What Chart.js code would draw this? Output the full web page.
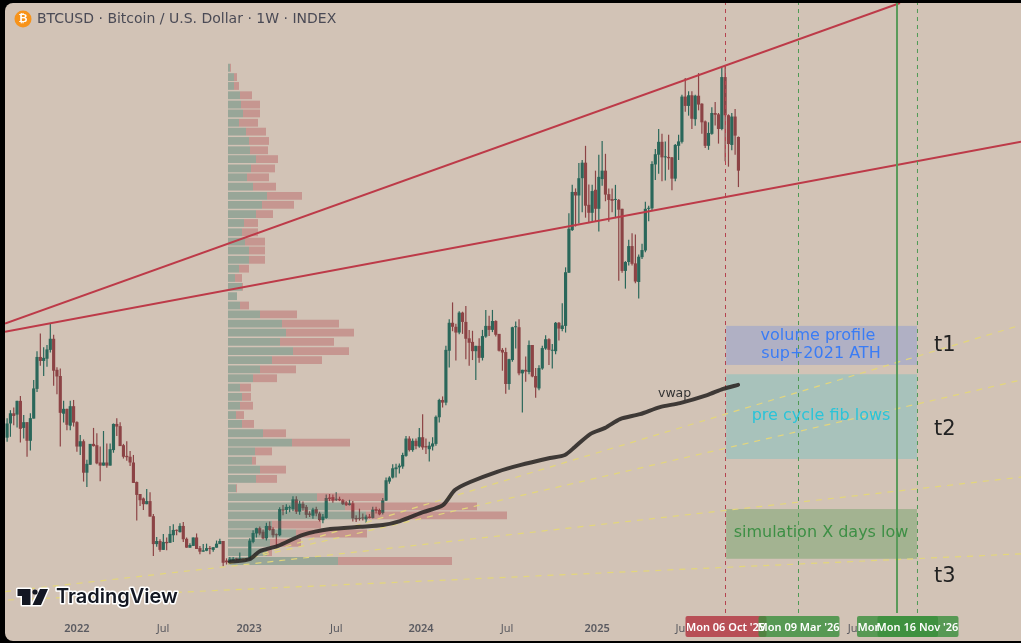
<!DOCTYPE html>
<html>
<head>
<meta charset="utf-8">
<title>BTCUSD 1W</title>
<script src="https://cdn.jsdelivr.net/npm/chart.js@4"></script>
<style>
    html, body { margin: 0; padding: 0; background: #000; width: 1021px; height: 643px; overflow: hidden; }
    #panel { position: absolute; left: 5px; top: 3px; width: 1016px; height: 638px; background: #d2c3b6; border-radius: 8px 0 0 8px; }
    #chart { position: absolute; left: 0; top: 0; }
</style>
</head>
<body>
<div id="panel"></div>
<canvas id="chart" width="1021" height="643"></canvas>
<script>
// weekly candles in thousands of USD, oldest first
const opens = [
    44.2,47.4,49.7,49.4,52.5,46.4,47.7,43.5,48.5,55.2,62.4,61.5,62.0,64.0,66.5,59.5,58.1,49.6,50.7,46.9,
    51.3,47.7,42.2,43.4,36.3,38.1,42.8,42.5,38.6,37.9,38.6,37.9,41.4,47.3,46.8,42.5,40.1,39.9,38.6,34.2,
    31.5,30.5,29.2,29.9,26.5,20.2,20.9,18.9,20.7,20.5,22.2,23.4,22.9,24.3,21.4,19.4,19.8,21.7,19.3,18.5,
    18.7,19.3,18.9,19.4,20.2,20.9,16.5,16.2,16.5,16.9,16.8,16.9,16.7,16.7,20.7,22.6,23.8,23.0,21.5,24.3,
    23.6,22.4,22.2,28.0,27.9,28.3,28.1,30.3,27.5,29.3,28.6,27.1,26.6,28.1,27.1,25.6,26.1,30.7,30.8,30.2,
    30.4,30.1,29.6,29.0,29.4,26.1,26.0,26.2,25.8,26.4,26.1,28.1,27.9,27.2,30.0,34.3,35.2,37.1,37.5,37.7,
    40.1,44.0,41.4,43.5,42.2,44.3,42.3,41.6,42.2,42.8,48.8,52.7,52.1,63.8,70.1,69.2,67.9,72.4,70.3,66.6,
    65.8,63.7,64.9,62.2,67.0,69.4,68.5,70.5,67.6,64.0,63.5,56.3,61.7,69.1,69.1,58.7,59.5,59.0,65.1,58.1,
    55.3,59.8,64.3,66.4,63.8,63.7,70.1,68.7,69.4,81.4,91.0,99.6,98.8,102.7,106.2,96.7,94.9,100.1,95.8,102.5,
    104.4,99.1,98.0,97.8,97.8,95.8,81.8,83.8,87.4,83.5,79.3,84.9,86.4,95.8,95.9,105.8,108.0,110.9,107.4,107.5,
    107.4,102.6,110.0,110.9,121.1,119.0,121.4,116.0,121.3,119.5,115.5,110.0,112.7,117.4,117.1,113.8,125.5,116.9,110.2,116.6,
    112.0
];
const closes = [
    47.4,49.7,49.1,52.5,46.2,47.7,43.5,48.6,55.3,62.4,61.5,62.2,64.1,66.5,59.3,58.0,49.8,50.7,47.1,51.3,
    47.6,42.2,43.4,36.3,38.3,42.8,42.3,38.4,37.9,38.6,37.9,41.6,47.3,46.7,42.3,39.9,39.8,38.6,34.0,31.3,
    30.1,29.2,29.9,26.4,20.2,20.9,18.9,20.7,20.4,22.5,23.4,23.2,24.3,21.3,19.4,20.0,21.7,19.1,18.5,18.8,
    19.3,19.1,19.5,20.3,20.9,16.0,16.1,16.9,16.9,16.8,16.9,16.6,16.6,21.0,22.7,23.8,22.6,21.5,24.3,23.4,
    22.2,22.2,28.1,27.8,28.6,28.5,30.3,27.5,29.3,28.3,26.8,26.8,28.0,27.1,25.6,26.4,30.6,30.4,30.0,30.4,
    30.1,29.2,29.0,29.4,26.0,25.8,25.9,26.0,26.4,26.1,28.0,27.7,26.9,30.1,34.6,35.2,37.3,37.5,37.9,40.3,
    44.0,41.4,43.5,42.3,44.3,42.0,42.0,42.4,42.9,48.9,52.7,52.1,64.0,70.1,69.2,67.9,72.4,70.3,66.5,65.6,
    63.7,64.9,62.2,67.1,69.4,68.5,70.5,67.4,63.8,63.4,56.3,61.9,69.1,69.2,58.7,59.5,59.1,65.1,58.0,55.5,
    59.9,64.4,66.4,64.0,63.9,70.1,68.8,69.5,81.5,91.3,99.6,98.8,102.7,106.2,96.5,94.9,99.8,95.8,103.0,104.4,
    99.0,97.8,97.6,97.9,95.6,81.8,83.8,87.4,83.4,79.4,85.0,86.5,95.8,95.9,105.9,108.1,110.9,107.4,107.5,107.2,
    102.6,110.2,111.0,121.1,119.0,121.4,116.1,121.3,119.3,115.3,110.0,112.9,117.4,117.0,113.8,125.5,116.9,110.4,116.6,112.3,
    104.4
];
const highs = [
    48.6,50.4,51.0,52.5,53.6,49.3,47.7,49.7,57.2,63.7,67.7,64.6,65.1,70.0,67.4,60.1,59.8,52.5,50.7,52.5,
    52.7,47.9,44.8,43.8,39.2,42.8,46.4,45.2,42.2,45.7,42.9,42.9,47.4,48.6,47.7,42.8,43.4,41.2,40.3,34.3,
    31.5,30.7,32.6,31.9,27.0,21.8,21.3,22.5,21.7,24.3,24.7,23.5,24.9,25.2,21.7,20.4,21.7,22.6,19.8,20.2,
    20.3,19.8,19.5,21.0,21.4,20.9,17.0,17.3,17.3,17.1,18.3,17.0,16.9,21.5,23.3,23.9,24.2,23.5,25.0,25.3,
    24.0,22.6,28.5,29.0,29.2,28.9,31.0,31.0,30.0,29.8,29.0,27.6,28.4,28.6,27.5,27.0,31.4,31.5,31.4,31.9,
    30.9,30.4,29.9,30.2,29.9,26.7,28.2,27.1,26.8,27.0,28.6,28.6,28.2,30.6,35.2,35.5,38.2,38.3,38.4,40.8,
    44.6,44.5,44.0,44.0,46.4,49.5,44.0,43.3,44.3,49.2,53.0,53.5,64.9,70.9,74.7,69.9,72.7,72.6,73.9,68.5,
    68.3,64.9,66.6,68.5,73.0,71.7,73.0,70.7,67.6,64.4,64.5,62.0,69.2,70.4,70.9,59.5,62.5,66.1,65.1,59.9,
    60.5,64.9,67.3,66.6,65.3,70.3,70.3,74.5,82.6,94.8,101.2,100.4,106.1,106.8,110.0,101.3,101.2,104.4,108.0,111.1,
    108.2,100.4,100.4,101.2,98.0,95.8,84.0,88.8,90.3,90.0,85.5,87.9,97.4,96.5,106.5,109.3,113.8,112.7,111.0,112.5,
    107.5,110.4,112.5,121.5,125.3,122.3,122.3,121.5,126.4,119.6,115.7,115.3,118.7,119.9,117.4,127.7,128.0,117.1,117.4,118.3,
    112.1
];
const lows = [
    43.3,44.4,47.0,46.5,43.1,44.0,39.9,41.3,48.5,54.5,60.4,58.1,60.2,63.4,55.9,54.0,42.2,47.6,45.9,45.9,
    46.7,41.0,40.3,34.3,33.1,38.1,42.2,38.2,34.4,37.9,37.4,37.9,40.8,44.6,42.3,39.5,39.0,37.8,34.0,25.5,
    28.8,27.9,29.2,26.4,17.5,19.6,18.5,18.9,18.8,20.5,20.7,22.2,22.8,20.7,19.4,19.4,19.8,19.1,17.9,18.5,
    18.6,17.9,18.5,19.4,20.2,15.2,15.6,15.9,16.3,16.5,16.5,16.4,16.4,16.6,20.4,21.7,22.2,21.3,21.0,23.2,
    21.7,19.4,22.0,26.7,27.0,27.4,27.6,27.0,26.8,27.7,26.1,26.3,25.9,26.5,25.3,24.9,25.9,29.9,29.5,29.9,
    29.9,29.0,28.8,28.9,25.3,25.2,25.5,25.5,25.0,26.0,26.0,27.1,26.7,26.9,29.9,33.8,35.0,35.2,36.1,37.2,
    39.9,41.1,41.0,41.6,41.9,41.5,40.5,38.8,41.3,42.4,47.6,51.0,51.5,60.0,68.2,61.6,67.5,67.6,61.9,60.4,
    61.7,57.2,61.1,61.6,66.7,67.1,68.0,67.0,63.6,59.3,54.1,55.0,61.3,64.3,58.3,49.9,56.8,58.5,57.8,53.2,
    54.9,59.5,64.0,60.6,59.8,63.0,66.1,68.2,67.9,81.3,90.8,91.8,92.5,95.0,93.8,92.6,92.9,92.9,90.7,101.0,
    97.5,92.9,95.0,93.7,79.6,81.4,77.8,83.0,83.0,79.0,75.6,84.5,86.0,93.0,95.5,102.3,103.7,102.0,102.2,104.6,
    100.0,102.0,106.8,110.5,117.7,116.8,113.8,114.5,118.0,112.7,109.5,109.1,112.5,114.6,110.5,113.5,106.5,105.3,109.0,108.0,
    100.7
];

// volume profile rows, top row first
const profileLevels = [
    127.6,125.5,123.5,121.4,119.3,117.3,115.2,113.2,111.1,109.0,107.0,104.9,102.9,100.8,98.7,96.7,94.6,92.6,90.5,88.4,
    86.4,84.3,82.3,80.2,78.2,76.1,74.0,72.0,69.9,67.9,65.8,63.7,61.7,59.6,57.6,55.5,53.4,51.4,49.3,47.3,
    45.2,43.1,41.1,39.0,37.0,34.9,32.8,30.8,28.7,26.7,24.6,22.6,20.5,18.4,16.4
];
const profileUp = [
    2,6,6,12,13,15,11,18,21,22,28,23,19,25,39,34,28,16,14,17,
    21,21,11,7,14,9,12,32,54,58,52,65,44,32,25,12,14,12,8,14,
    35,64,27,24,32,28,8,89,117,138,44,68,42,39,110
];
const profileDown = [
    1,3,5,12,19,17,19,20,20,18,22,24,22,23,35,32,17,14,16,20,
    16,16,10,7,1,0,9,37,57,68,54,56,50,36,24,11,9,13,8,12,
    23,58,17,4,26,21,1,67,132,141,49,71,31,5,114
];

// vwap, read at these weeks
const vwapWeeks = [67,73,76,81.5,89,97.2,106.2,113,118.2,125.1,131.1,134.7,139.3,147.4,154.3,163.3,167.8,170.8,175.4,179.9,184.4,190.4,196.4,202.4,210.6,215.4,219.9];
const vwapValues = [16.2,16.8,18.6,19.8,22.3,23.6,24.1,24.5,25.4,27.4,29.0,32.4,34.2,36.5,38.0,39.6,40.3,42.1,45.0,46.4,48.4,49.5,51.1,52.0,53.8,55.2,56.1];

// trend lines as [week, price] ends
const redLines = [
    [[-0.63, 69.95], [268.6, 142.2]],
    [[-0.63, 68.1], [305, 110.9]]
];
const yellowLines = [
    [[66.5, 15.7], [305, 69.6]],
    [[66.5, 15.9], [305, 57.2]],
    [[-0.63, 9.5], [305, 35.3]],
    [[0.27, 7.6], [305, 18.0]]
];

// x axis
const tickWeeks = [21, 46.9, 72.8, 99, 124.5, 150.4, 177.5, 203, 254.8];
const tickLabels = ['2022', 'Jul', '2023', 'Jul', '2024', 'Jul', '2025', 'Jul', 'Jul'];

// time markers
const markerWeeks = [216.11, 238.07, 267.7, 273.86];
const markerDates = ["Mon 06 Oct '25", "Mon 09 Mar '26", "Mon 05 Oct '26", "Mon 16 Nov '26"];
const markerColors = ['#b5434f', '#4f9a55', '#5a9a5a', '#4f9a55'];
const markerTagColors = ['rgba(178,50,62,0.8)', 'rgba(56,142,60,0.8)', 'rgba(56,142,60,0.8)', 'rgba(56,142,60,0.8)'];

// price zones
const zoneTop = [69.4, 58.5, 28.1];
const zoneBottom = [60.6, 39.4, 16.9];
const zoneFrom = 216.3;
const zoneTo = 273.7;
const zoneColors = ['rgba(41,98,255,0.2)', 'rgba(0,188,212,0.2)', 'rgba(56,142,60,0.3)'];

const yMin = 4.67, yMax = 142.2;
const FONT = '"DejaVu Sans", sans-serif';
const SMALL_FONT = '"Noto Sans", sans-serif';

const candleX = opens.map((_, i) => i);
const GREEN = '#2a675a';
const RED = '#8c4345';
const candleColors = opens.map((o, i) => closes[i] >= o ? GREEN : RED);

function straight(pair, color, width, dash, order) {
    return {
        type: 'line',
        data: pair.map(p => ({ x: p[0], y: p[1] })),
        borderColor: color,
        borderWidth: width,
        borderDash: dash,
        pointRadius: 0,
        order: order
    };
}

const datasets = [];

// candles: wick underneath, body on top
datasets.push({
    type: 'bar',
    data: candleX.map(i => ({ x: i, y: [lows[i], highs[i]] })),
    backgroundColor: candleColors,
    barPercentage: 0.36,
    categoryPercentage: 1,
    grouped: false,
    order: 21
});
datasets.push({
    type: 'bar',
    data: candleX.map(i => ({ x: i, y: [opens[i], closes[i]] })),
    backgroundColor: candleColors,
    barPercentage: 0.95,
    categoryPercentage: 1,
    grouped: false,
    minBarLength: 1,
    order: 20
});

// volume profile, stacked by hand
datasets.push({
    type: 'bar',
    indexAxis: 'y',
    xAxisID: 'xVol',
    yAxisID: 'yVol',
    data: profileLevels.map((lvl, i) => ({ x: [0, profileUp[i]], y: lvl })),
    backgroundColor: 'rgba(47,111,96,0.35)',
    barPercentage: 0.88,
    categoryPercentage: 1,
    grouped: false,
    order: 10
});
datasets.push({
    type: 'bar',
    indexAxis: 'y',
    xAxisID: 'xVol',
    yAxisID: 'yVol',
    data: profileLevels.map((lvl, i) => ({ x: [profileUp[i], profileUp[i] + profileDown[i]], y: lvl })),
    backgroundColor: 'rgba(178,66,74,0.35)',
    barPercentage: 0.88,
    categoryPercentage: 1,
    grouped: false,
    order: 10
});

yellowLines.forEach(l => datasets.push(straight(l, '#e3d67c', 1.2, [6, 6], 9)));
redLines.forEach(l => datasets.push(straight(l, '#bd3a48', 2, [], 8)));

markerWeeks.forEach((w, i) => {
    const solid = i === 2;
    datasets.push(straight([[w, yMin], [w, yMax]], markerColors[i], solid ? 2 : 1, solid ? [] : [4, 4], 7));
});

datasets.push({
    type: 'line',
    data: vwapWeeks.map((w, i) => ({ x: w, y: vwapValues[i] })),
    borderColor: 'rgba(45,42,40,0.9)',
    borderWidth: 4,
    borderCapStyle: 'round',
    tension: 0.25,
    pointRadius: 0,
    order: 5
});

// zones go under everything
const zonesPlugin = {
    id: 'zones',
    beforeDatasetsDraw(chart) {
        const { ctx, scales: { x, y } } = chart;
        ctx.save();
        zoneTop.forEach((top, i) => {
            ctx.fillStyle = zoneColors[i];
            const py = y.getPixelForValue(top);
            ctx.fillRect(x.getPixelForValue(zoneFrom), py, x.getPixelForValue(zoneTo) - x.getPixelForValue(zoneFrom), y.getPixelForValue(zoneBottom[i]) - py);
        });
        ctx.restore();
    }
};

function drawLogo(ctx) {
    ctx.save();
    ctx.lineJoin = 'round';
    const shapes = new Path2D();
    // T
    shapes.moveTo(17.5, 589); shapes.lineTo(30.5, 589); shapes.lineTo(30.5, 605); shapes.lineTo(22, 605); shapes.lineTo(22, 596); shapes.lineTo(17.5, 596); shapes.closePath();
    // slash
    shapes.moveTo(40, 589); shapes.lineTo(48, 589); shapes.lineTo(41, 605); shapes.lineTo(32.5, 605); shapes.closePath();
    ctx.strokeStyle = '#fff';
    ctx.lineWidth = 3;
    ctx.stroke(shapes);
    ctx.fillStyle = '#131722';
    ctx.fill(shapes);
    ctx.beginPath();
    ctx.arc(35, 592, 2.6, 0, Math.PI * 2);
    ctx.fill();
    ctx.font = '600 20px Inter, ' + FONT;
    ctx.textAlign = 'left';
    ctx.textBaseline = 'middle';
    ctx.strokeStyle = '#fff';
    ctx.lineWidth = 3;
    ctx.strokeText('TradingView', 56, 597);
    ctx.fillStyle = '#131722';
    ctx.fillText('TradingView', 56, 597);
    ctx.restore();
}

const overlayPlugin = {
    id: 'overlay',
    afterDraw(chart) {
        const { ctx, scales: { x } } = chart;
        ctx.save();
        ctx.textBaseline = 'middle';

        // coin and title
        ctx.fillStyle = '#f7931a';
        ctx.beginPath();
        ctx.arc(23, 19, 8.5, 0, Math.PI * 2);
        ctx.fill();
        ctx.fillStyle = '#fff';
        ctx.font = 'bold 11px ' + FONT;
        ctx.textAlign = 'center';
        ctx.fillText('₿', 23, 19.5);
        ctx.fillStyle = '#4a4a55';
        ctx.font = '14px ' + FONT;
        ctx.textAlign = 'left';
        ctx.fillText('BTCUSD · Bitcoin / U.S. Dollar · 1W · INDEX', 37, 19);

        // zone captions
        ctx.textAlign = 'center';
        ctx.font = '16px ' + FONT;
        ctx.fillStyle = '#3a7cf5';
        ctx.fillText('volume profile', 818, 336);
        ctx.fillText('sup+2021 ATH', 821, 354);
        ctx.fillStyle = '#2ac4d8';
        ctx.fillText('pre cycle fib lows', 821, 416);
        ctx.fillStyle = '#3d8f45';
        ctx.fillText('simulation X days low', 821, 533);

        ctx.textAlign = 'left';
        ctx.fillStyle = '#222';
        ctx.font = '21px ' + FONT;
        ctx.fillText('t1', 934, 346);
        ctx.fillText('t2', 934, 430);
        ctx.fillText('t3', 934, 577);

        ctx.fillStyle = '#333';
        ctx.font = '12.5px ' + FONT;
        ctx.fillText('vwap', 658, 394);

        // date tags on the axis
        markerWeeks.forEach((w, i) => {
            const cx = x.getPixelForValue(w);
            ctx.fillStyle = markerTagColors[i];
            ctx.beginPath();
            ctx.roundRect(cx - 40, 616, 81, 21, 2);
            ctx.fill();
        });
        ctx.textAlign = 'center';
        ctx.font = '600 11px ' + SMALL_FONT;
        ctx.fillStyle = '#fff';
        markerWeeks.forEach((w, i) => {
            if (i === 2) return;
            ctx.fillText(markerDates[i], x.getPixelForValue(w), 628);
        });
        // the tag hidden behind Nov only shows its first letters
        ctx.save();
        ctx.beginPath();
        ctx.rect(857, 616, 22, 21);
        ctx.clip();
        ctx.fillText(markerDates[2], x.getPixelForValue(markerWeeks[2]), 628);
        ctx.restore();

        ctx.restore();
        drawLogo(ctx);
    }
};

new Chart(document.getElementById('chart'), {
    type: 'bar',
    data: { datasets: datasets },
    plugins: [zonesPlugin, overlayPlugin],
    options: {
        responsive: false,
        animation: false,
        layout: { padding: { left: 5, top: 3, right: 0, bottom: 0 } },
        plugins: { legend: { display: false }, tooltip: { enabled: false }, title: { display: false } },
        scales: {
            x: {
                type: 'linear',
                position: 'bottom',
                offset: false,
                min: -0.63,
                max: 305,
                grid: { display: false, drawTicks: false },
                border: { display: false },
                afterBuildTicks(axis) { axis.ticks = tickWeeks.map(v => ({ value: v })); },
                afterFit(axis) { axis.height = 30; },
                ticks: {
                    autoSkip: false,
                    maxRotation: 0,
                    padding: 9,
                    color: '#5a5a60',
                    font: c => ({ family: SMALL_FONT, size: 11, weight: c.tick && tickLabels[tickWeeks.indexOf(c.tick.value)] !== 'Jul' ? '600' : '400' }),
                    callback: v => tickLabels[tickWeeks.indexOf(v)]
                }
            },
            y: { type: 'linear', display: false, min: yMin, max: yMax, grid: { display: false } },
            xVol: { type: 'linear', axis: 'x', display: false, offset: false, min: -223, max: 793, grid: { display: false } },
            yVol: { type: 'linear', axis: 'y', display: false, offset: false, min: yMin, max: yMax, grid: { display: false } }
        }
    }
});
</script>
</body>
</html>
